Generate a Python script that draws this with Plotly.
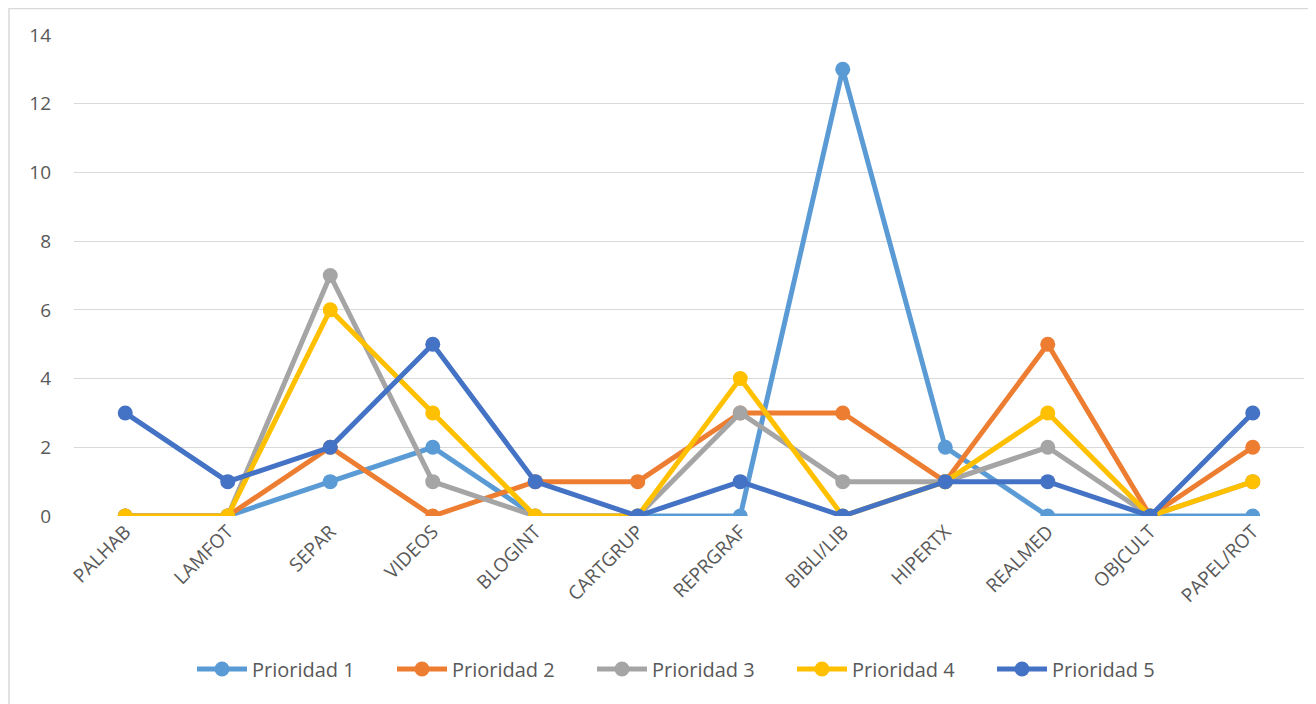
import plotly.graph_objects as go

categorias = ["PALHAB", "LAMFOT", "SEPAR", "VIDEOS", "BLOGINT", "CARTGRUP",
              "REPRGRAF", "BIBLI/LIB", "HIPERTX", "REALMED", "OBJCULT", "PAPEL/ROT"]

prioridad_1 = [0, 0, 1, 2, 0, 0, 0, 13, 2, 0, 0, 0]
prioridad_2 = [0, 0, 2, 0, 1, 1, 3, 3, 1, 5, 0, 2]
prioridad_3 = [0, 0, 7, 1, 0, 0, 3, 1, 1, 2, 0, 1]
prioridad_4 = [0, 0, 6, 3, 0, 0, 4, 0, 1, 3, 0, 1]
prioridad_5 = [3, 1, 2, 5, 1, 0, 1, 0, 1, 1, 0, 3]

series = [
    ("Prioridad 1", prioridad_1, "#5B9BD5"),
    ("Prioridad 2", prioridad_2, "#ED7D31"),
    ("Prioridad 3", prioridad_3, "#A5A5A5"),
    ("Prioridad 4", prioridad_4, "#FFC000"),
    ("Prioridad 5", prioridad_5, "#4472C4"),
]

fig = go.Figure()
for nombre, valores, color in series:
    fig.add_trace(go.Scatter(
        x=categorias, y=valores, name=nombre, mode="lines+markers",
        line=dict(color=color, width=5),
        marker=dict(color=color, size=15),
    ))

# the page puts the figure 8px in from the top-left corner
W, H = 1308, 696
ml, mr, mt, mb = 66, 12, 27, 188
pw, ph = W - ml - mr, H - mt - mb

fig.update_layout(
    width=W, height=H,
    margin=dict(l=ml, r=mr, t=mt, b=mb, autoexpand=False),
    paper_bgcolor="white", plot_bgcolor="white",
    font=dict(family="Open Sans, sans-serif", size=18, color="#595959"),
    showlegend=True,
    legend=dict(orientation="h", x=(692 - 8) / W, xanchor="center", xref="container",
                y=(H - 661) / H, yanchor="middle", yref="container",
                font=dict(size=20, color="#595959"), itemwidth=50,
                entrywidth=135, entrywidthmode="pixels",
                traceorder="normal"),
    xaxis=dict(showgrid=False, tickangle=-45, showline=False, ticks="",
               range=[-0.5, len(categorias) - 0.5], automargin=False,
               tickfont=dict(size=19, color="#595959")),
    yaxis=dict(range=[0, 14], dtick=2, showgrid=True, gridcolor="#D9D9D9",
               gridwidth=1.3, zeroline=False, showline=False, ticks="",
               automargin=False, ticklabelstandoff=22,
               tickfont=dict(size=19, color="#595959")),
    shapes=[dict(type="rect", xref="paper", yref="paper",
                 x0=(1 - ml) / pw, x1=(W + 5 - ml) / pw,
                 y0=(H - mb - (H + 5)) / ph, y1=(H - mb - 0.5) / ph,
                 line=dict(color="#D9D9D9", width=1.5), layer="below")],
)

fig.write_html("out.html")
